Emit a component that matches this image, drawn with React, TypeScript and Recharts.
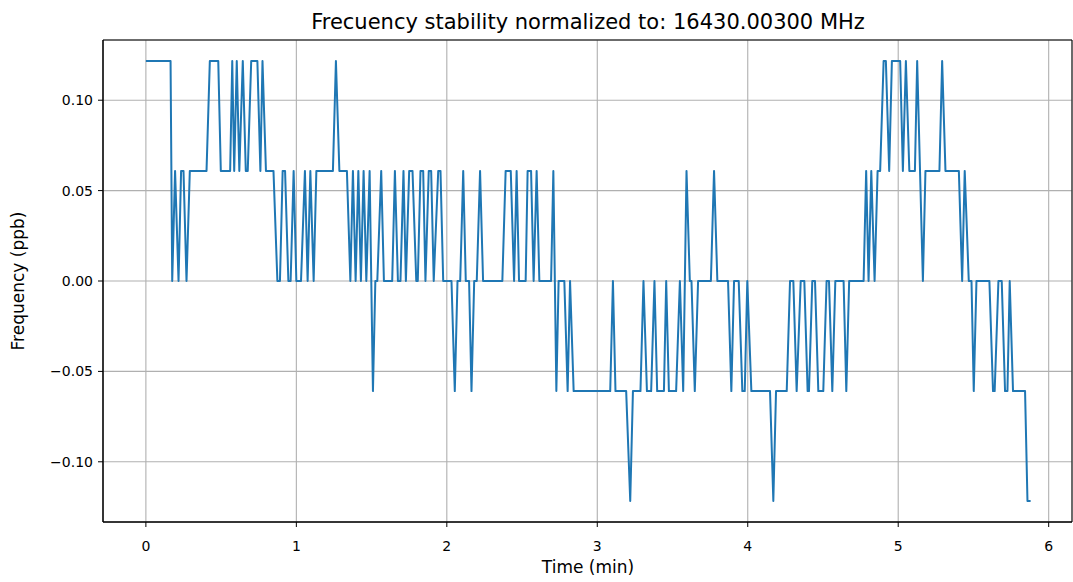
import React from 'react';
import { LineChart, Line, XAxis, YAxis, CartesianGrid, ReferenceArea } from 'recharts';

// time of each corner of the trace (min)
const minutes = [
  0, 0.164, 0.175, 0.194, 0.217, 0.234, 0.25, 0.27, 0.292, 0.403, 0.425, 0.481, 0.498, 0.56, 0.574, 0.587,
  0.604, 0.621, 0.644, 0.664, 0.677, 0.7, 0.741, 0.761, 0.775, 0.798, 0.848, 0.874, 0.891, 0.909, 0.925, 0.947,
  0.962, 0.982, 1.0, 1.031, 1.057, 1.075, 1.093, 1.115, 1.133, 1.243, 1.263, 1.286, 1.336, 1.359, 1.376, 1.394,
  1.412, 1.429, 1.447, 1.465, 1.487, 1.509, 1.525, 1.538, 1.564, 1.582, 1.637, 1.655, 1.675, 1.692, 1.712, 1.728,
  1.75, 1.772, 1.797, 1.807, 1.825, 1.843, 1.858, 1.88, 1.896, 1.913, 1.943, 1.958, 1.976, 2.031, 2.053, 2.071,
  2.089, 2.109, 2.126, 2.148, 2.164, 2.182, 2.199, 2.221, 2.241, 2.369, 2.391, 2.425, 2.447, 2.464, 2.48, 2.524,
  2.537, 2.56, 2.577, 2.597, 2.615, 2.693, 2.708, 2.728, 2.743, 2.781, 2.803, 2.819, 2.843, 3.086, 3.104, 3.121,
  3.192, 3.219, 3.237, 3.287, 3.307, 3.33, 3.358, 3.38, 3.398, 3.443, 3.458, 3.476, 3.524, 3.549, 3.571, 3.593,
  3.615, 3.626, 3.648, 3.67, 3.755, 3.776, 3.798, 3.869, 3.891, 3.909, 3.94, 3.964, 3.98, 3.997, 4.024, 4.148,
  4.17, 4.188, 4.259, 4.281, 4.303, 4.325, 4.352, 4.376, 4.398, 4.407, 4.429, 4.447, 4.469, 4.502, 4.524, 4.54,
  4.562, 4.582, 4.637, 4.655, 4.674, 4.77, 4.787, 4.803, 4.821, 4.843, 4.863, 4.88, 4.903, 4.918, 4.94, 4.958,
  5.013, 5.031, 5.051, 5.074, 5.111, 5.126, 5.164, 5.181, 5.274, 5.292, 5.314, 5.403, 5.425, 5.442, 5.469, 5.487,
  5.502, 5.52, 5.606, 5.63, 5.641, 5.666, 5.688, 5.71, 5.726, 5.741, 5.763, 5.843, 5.859, 5.88,
];

// frequency at each corner (ppb)
const ppb = [
  0.1217, 0.1217, 0, 0.0609, 0, 0.0609, 0.0609, 0, 0.0609, 0.0609, 0.1217, 0.1217, 0.0609, 0.0609, 0.1217, 0.0609,
  0.1217, 0.0609, 0.1217, 0.0609, 0.0609, 0.1217, 0.1217, 0.0609, 0.1217, 0.0609, 0.0609, 0, 0, 0.0609, 0.0609, 0,
  0, 0.0609, 0, 0, 0.0609, 0, 0.0609, 0, 0.0609, 0.0609, 0.1217, 0.0609, 0.0609, 0, 0.0609, 0,
  0.0609, 0, 0.0609, 0, 0.0609, -0.0609, 0, 0, 0.0609, 0, 0, 0.0609, 0, 0, 0.0609, 0,
  0.0609, 0.0609, 0, 0, 0.0609, 0.0609, 0, 0.0609, 0.0609, 0, 0.0609, 0.0609, 0, 0, -0.0609, 0,
  0, 0.0609, 0, 0, -0.0609, 0, 0, 0.0609, 0, 0, 0.0609, 0.0609, 0, 0.0609, 0, 0,
  0.0609, 0.0609, 0, 0.0609, 0, 0, 0.0609, -0.0609, 0, 0, -0.0609, 0, -0.0609, -0.0609, 0, -0.0609,
  -0.0609, -0.1217, -0.0609, -0.0609, 0, -0.0609, -0.0609, 0, -0.0609, -0.0609, 0, -0.0609, -0.0609, 0, -0.0609, 0.0609,
  0, 0, -0.0609, 0, 0, 0.0609, 0, 0, -0.0609, 0, 0, -0.0609, -0.0609, 0, -0.0609, -0.0609,
  -0.1217, -0.0609, -0.0609, 0, 0, -0.0609, 0, 0, -0.0609, -0.0609, 0, 0, -0.0609, -0.0609, 0, 0,
  -0.0609, 0, 0, -0.0609, 0, 0, 0.0609, 0, 0.0609, 0, 0.0609, 0.0609, 0.1217, 0.1217, 0.0609, 0.1217,
  0.1217, 0.0609, 0.1217, 0.0609, 0.0609, 0.1217, 0, 0.0609, 0.0609, 0.1217, 0.0609, 0.0609, 0, 0.0609, 0, 0,
  -0.0609, 0, 0, -0.0609, -0.0609, 0, 0, -0.0609, -0.0609, 0, -0.0609, -0.0609, -0.1217, -0.1217,
];

const xTicks = [0, 1, 2, 3, 4, 5, 6];
const yTicks = [-0.1, -0.05, 0, 0.05, 0.1];

const data = minutes.map((t, i) => ({ t, f: ppb[i] }));

const FONT = '"DejaVu Sans", sans-serif';
const fmtY = (v: number) => (v < 0 ? '\u2212' : '') + Math.abs(v).toFixed(2);

export default function App() {
  return (
    <div style={{ position: 'absolute', left: 0, top: 0, width: 1073, height: 582, background: '#fff' }}>
      <LineChart width={1073} height={582} data={data} margin={{ top: 40, right: 1, bottom: 0, left: 0 }}>
        <CartesianGrid stroke="#b0b0b0" strokeWidth={1.1} />
        <XAxis
          dataKey="t"
          type="number"
          domain={[-0.285, 6.155]}
          ticks={xTicks}
          allowDataOverflow
          height={60}
          tickSize={5}
          tickMargin={14}
          stroke="#000"
          tick={{ fill: '#000', fontSize: 14, fontFamily: FONT }}
        />
        <YAxis
          type="number"
          domain={[-0.1333, 0.1333]}
          ticks={yTicks}
          allowDataOverflow
          width={103}
          tickSize={5}
          tickMargin={5}
          stroke="#000"
          tickFormatter={fmtY}
          tick={{ fill: '#000', fontSize: 14, fontFamily: FONT }}
        />
        <ReferenceArea x1={-0.285} x2={6.155} y1={-0.1333} y2={0.1333} fill="none" stroke="#000" strokeWidth={1} />
        <Line
          type="linear"
          dataKey="f"
          stroke="#1f77b4"
          strokeWidth={2}
          strokeLinejoin="round"
          dot={false}
          isAnimationActive={false}
        />
      </LineChart>
      <svg width={1073} height={582} style={{ position: 'absolute', left: 0, top: 0, pointerEvents: 'none' }}>
        <text x={588} y={29} textAnchor="middle" fontFamily={FONT} fontSize={21} fill="#000">
          Frecuency stability normalized to: 16430.00300 MHz
        </text>
        <text x={588} y={573} textAnchor="middle" fontFamily={FONT} fontSize={17} fill="#000">
          Time (min)
        </text>
        <text x={24} y={281} transform="rotate(-90 24 281)" textAnchor="middle" fontFamily={FONT} fontSize={17} fill="#000">
          Frequency (ppb)
        </text>
      </svg>
    </div>
  );
}
